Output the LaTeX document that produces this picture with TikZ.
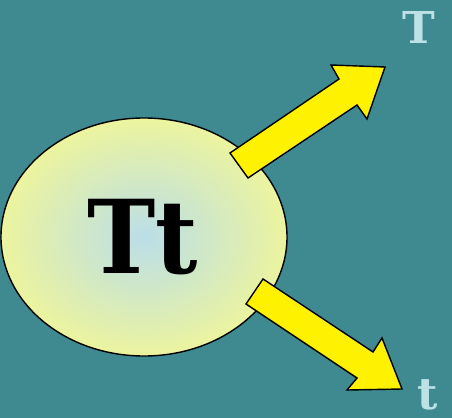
\documentclass[tikz,border=0pt]{standalone}
\usepackage{fontspec}
\setmainfont{DejaVu Serif}
\newfontfamily\condserif{DejaVu Serif Condensed}
\definecolor{tealbg}{RGB}{62,138,144}
\definecolor{pale}{RGB}{188,226,232}
\definecolor{cellin}{RGB}{186,222,232}
\definecolor{cellout}{RGB}{236,244,158}
\tikzset{
  blockarrow/.style={draw=black,thick,fill=yellow,line join=miter},
  allele/.style={font=\bfseries\fontsize{25}{25}\selectfont,text=pale,inner sep=0pt}
}
\begin{document}
\begin{tikzpicture}[x=0.02cm,y=-0.02cm]
  \fill[tealbg] (0,0) rectangle (452,418);
  % the cell
  \shade[inner color=cellin,outer color=cellout,draw=black,thick] (144,237) ellipse (143 and 119);
  \node[font=\condserif\bfseries\fontsize{58}{58}\selectfont,inner sep=0pt] (geno) at (143,237) {Tt};
  % arrows out of the cell
  \draw[blockarrow] (230,153) -- (339,79) -- (331,65) -- (385,67) -- (367,119) -- (357,105) -- (248,178) -- cycle;
  \draw[blockarrow] (263,279) -- (373,352) -- (382,338) -- (402,389) -- (347,390) -- (357,378) -- (246,304) -- cycle;
  \node[allele] (big) at (419,27) {T};
  \node[allele] (small) at (428,395) {t};
\end{tikzpicture}
\end{document}
